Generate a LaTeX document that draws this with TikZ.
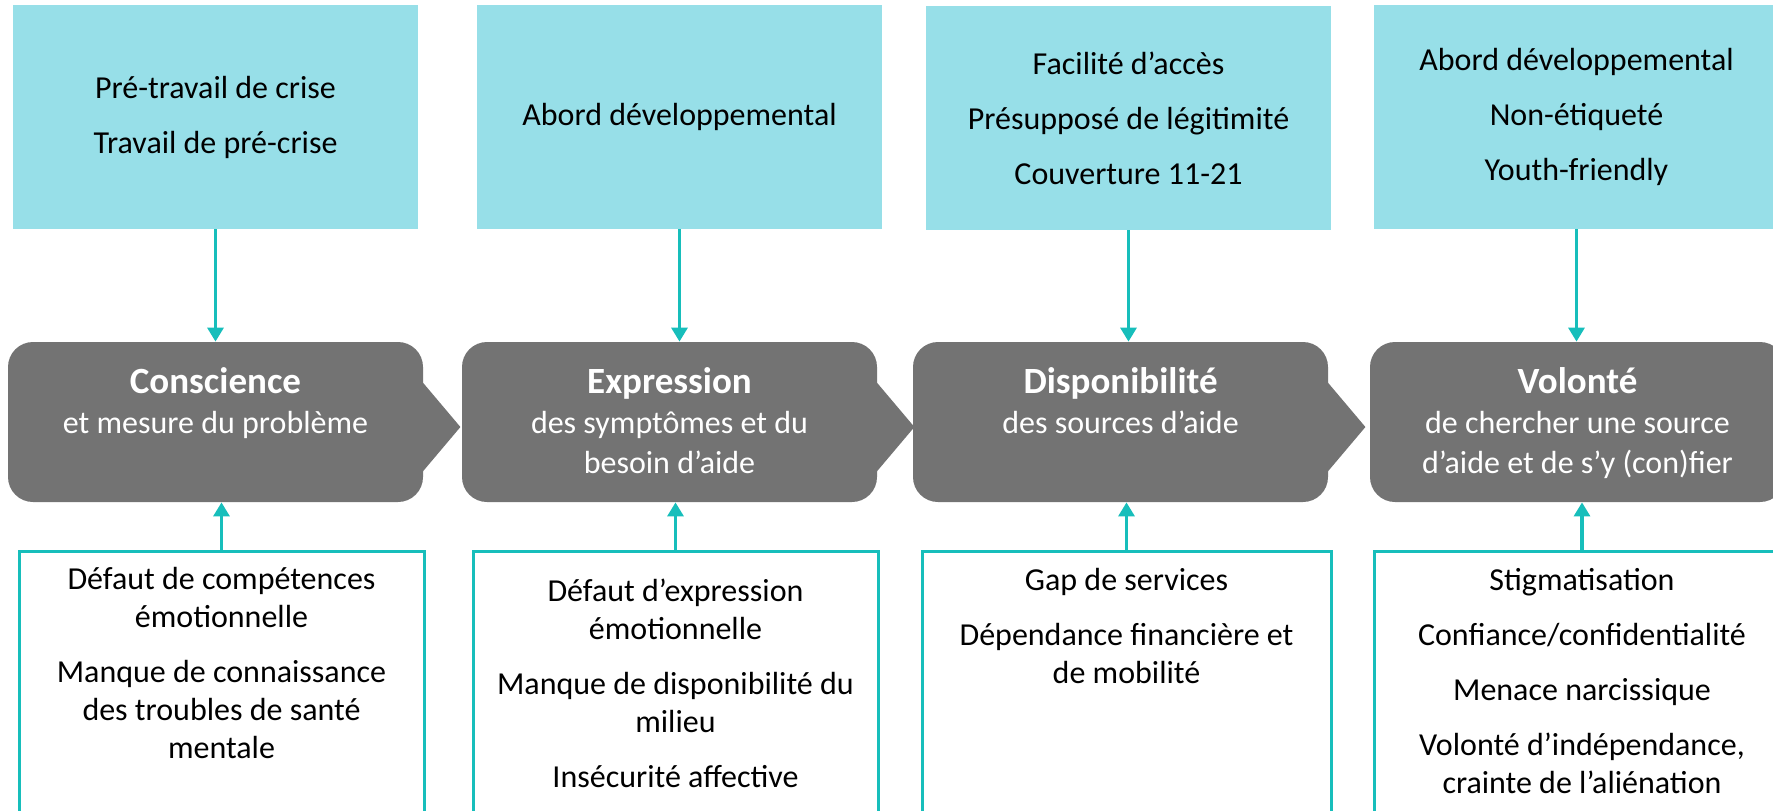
\documentclass[tikz,border=0pt]{standalone}
\usepackage{fontspec}
\setmainfont{Carlito}
\usepackage{tikz}
\usetikzlibrary{arrows.meta,positioning,calc}
\definecolor{topcolor}{RGB}{151,223,232}
\definecolor{linkcolor}{RGB}{23,190,187}
\definecolor{stepcolor}{RGB}{115,115,115}

\tikzset{
  topbox/.style={fill=topcolor, minimum width=202.5pt, minimum height=112pt,
                 align=center, inner sep=0pt, font=\fontsize{16}{19}\selectfont},
  stepbody/.style={fill=stepcolor, rounded corners=12.5pt, minimum width=207.5pt,
                   minimum height=80pt, inner sep=0pt},
  steptext/.style={anchor=base, align=center, text=white, inner sep=0pt,
                   font=\fontsize{16}{20}\selectfont},
  botbox/.style={draw=linkcolor, line width=1.5pt, minimum width=202.5pt,
                 minimum height=139.5pt, inner sep=0pt},
  bottext/.style={anchor=base, align=center, inner sep=0pt,
                  font=\fontsize{16}{19}\selectfont},
  linkarrow/.style={draw=linkcolor, line width=1.6pt, -{Triangle[width=8pt,length=7pt]}}
}
\newcommand{\steptitle}[1]{{\fontsize{18.5}{20}\selectfont\bfseries #1}}

\begin{document}
\begin{tikzpicture}[x=0.5pt, y=-0.5pt]
    \useasboundingbox (0,0) rectangle (1773,810);

    % what helps
    \node[topbox] (t1) at (215.5,117) {Pré-travail de crise\\[8.5pt]Travail de pré-crise};
    \node[topbox] (t2) at (679.5,117) {Abord développemental};
    \node[topbox] (t3) at (1128.5,118) {Facilité d’accès\\[8.5pt]Présupposé de légitimité\\[8.5pt]Couverture 11-21};
    \node[topbox] (t4) at (1576.5,117) {Abord développemental\\[8.5pt]Non-étiqueté\\[8.5pt]Youth-friendly};

    % the four steps
    \node[stepbody] (c1) at (215.5,422) {};
    \node[stepbody] (c2) at (669.5,422) {};
    \node[stepbody] (c3) at (1120.5,422) {};
    \node[stepbody] (c4) at (1577.5,422) {};
    \foreach \i in {1,...,3}
        \fill[stepcolor] (c\i.east) ++(-1,-40) -- ++(38,45) -- ++(-38,45) -- cycle;

    % base = last line
    \node[steptext] (s1) at (215.5,433) {\steptitle{Conscience}\\et mesure du problème};
    \node[steptext] (s2) at (669.5,473) {\steptitle{Expression}\\des symptômes et du\\besoin d’aide};
    \node[steptext] (s3) at (1120.5,433) {\steptitle{Disponibilité}\\des sources d’aide};
    \node[steptext] (s4) at (1577.5,473) {\steptitle{Volonté}\\de chercher une source\\d’aide et de s’y (con)fier};

    % what gets in the way
    \node[botbox] (b1) at (221.5,690.5) {};
    \node[botbox] (b2) at (675.5,690.5) {};
    \node[botbox, minimum width=204.5pt] (b3) at (1126.5,690.5) {};
    \node[botbox, minimum width=208pt] (b4) at (1582,690.5) {};

    \node[bottext] (f1) at (221.5,758) {Défaut de compétences\\émotionnelle\\[8.5pt]Manque de connaissance\\des troubles de santé\\mentale};
    \node[bottext] (f2) at (675.5,787) {Défaut d’expression\\émotionnelle\\[8.5pt]Manque de disponibilité du\\milieu\\[8.5pt]Insécurité affective};
    \node[bottext] (f3) at (1126.5,683) {Gap de services\\[8.5pt]Dépendance financière et\\de mobilité};
    \node[bottext] (f4) at (1582,793) {Stigmatisation\\[8.5pt]Confiance/confidentialité\\[8.5pt]Menace narcissique\\[8.5pt]Volonté d’indépendance,\\crainte de l’aliénation};

    \foreach \i in {1,...,4} {
        \draw[linkarrow] (t\i.south) -- (t\i.south |- c\i.north);
        \draw[linkarrow] (b\i.north) -- (b\i.north |- c\i.south);
    }
\end{tikzpicture}
\end{document}
